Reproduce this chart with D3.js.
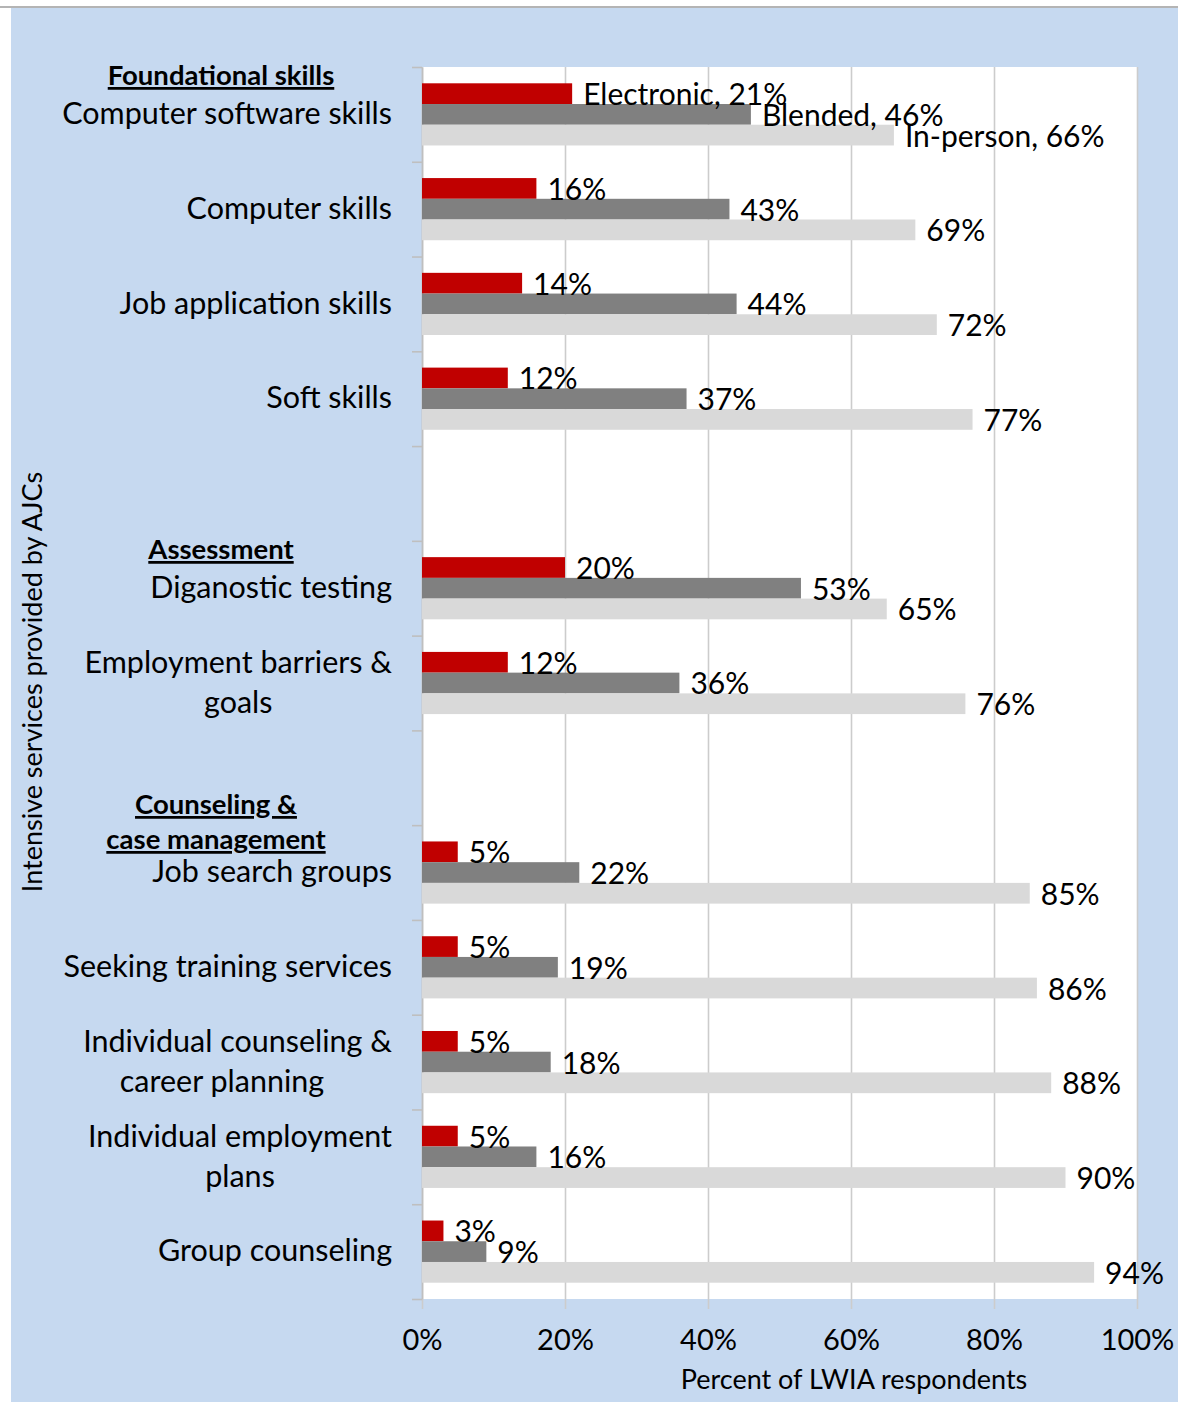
<!DOCTYPE html>
<html><head><meta charset="utf-8">
<script src="https://cdn.jsdelivr.net/npm/d3@7"></script>
<style>
body{margin:0;background:#fff}
text{font-family:Lato,"Open Sans",sans-serif;fill:#000}
</style>
</head><body>
<svg id="c" width="1178" height="1402"></svg>
<script>
// ---- data ----
const categories = [
  "Computer software skills",
  "Computer skills",
  "Job application skills",
  "Soft skills",
  "",
  "Diganostic testing",
  "Employment barriers &|goals",
  "",
  "Job search groups",
  "Seeking training services",
  "Individual counseling &|career planning\u00a0\u00a0\u00a0\u00a0",
  "Individual employment|plans",
  "Group counseling"
];
const series = ["Electronic", "Blended", "In-person"];
const electronic = [21, 16, 14, 12, null, 20, 12, null, 5, 5, 5, 5, 3];
const blended    = [46, 43, 44, 37, null, 53, 36, null, 22, 19, 18, 16, 9];
const inPerson   = [66, 69, 72, 77, null, 65, 76, null, 85, 86, 88, 90, 94];
const xTicks = [0, 20, 40, 60, 80, 100];
const groupHeaders = [["Foundational skills"], ["Assessment"], ["Counseling &", "case management"]];
const xTitle = "Percent of LWIA respondents";
const yTitle = "Intensive services provided by AJCs";

const seriesValues = [electronic, blended, inPerson];
const colors = ["#c00000", "#808080", "#d9d9d9"];

// ---- layout ----
const svg = d3.select("#c");
const L = 422, R = 1137, T = 67, B = 1299;
const FS_CAT = 30.5, FS_LBL = 30, FS_TICK = 29, FS_HEAD = 27.5, FS_TITLE = 27;

svg.append("line").attr("x1",0).attr("x2",1178).attr("y1",7).attr("y2",7)
  .attr("stroke","#b4b4b4").attr("stroke-width",2);
svg.append("rect").attr("x",11).attr("y",8).attr("width",1167).attr("height",1394).attr("fill","#c6d9f0");
svg.append("rect").attr("x",L).attr("y",T).attr("width",R-L).attr("height",B-T).attr("fill","#fff");

const x = d3.scaleLinear().domain([0,100]).range([L,R]);
const y = d3.scaleBand().domain(d3.range(categories.length)).range([T,B]);
const yIdx = d3.scaleLinear().domain([0,categories.length]).range([T,B]);
const inner = d3.scaleBand().domain(series).range([16.3, y.bandwidth()-16.3]);

// x axis with gridlines
const gx = svg.append("g").attr("transform",`translate(0,${T})`)
  .call(d3.axisBottom(x).tickValues(xTicks).tickSize(B-T+10).tickPadding(20).tickFormat(d=>d+"%"));
gx.select(".domain").remove();
gx.selectAll(".tick line").attr("stroke","#cccccc").attr("stroke-width",1.6);
gx.selectAll(".tick text").attr("font-size",FS_TICK).attr("font-family",null).attr("fill","#000");

// y axis ticks at band boundaries
const gy = svg.append("g").attr("transform",`translate(${L},0)`)
  .call(d3.axisLeft(yIdx).tickValues(d3.range(categories.length+1)).tickSize(10).tickSizeOuter(0).tickFormat(""));
gy.select(".domain").attr("stroke","#bfbfbf").attr("stroke-width",1.6);
gy.selectAll(".tick line").attr("stroke","#bfbfbf").attr("stroke-width",1.6);

// bars
const rows = categories.map((c,i)=>({i, vals: seriesValues.map(s=>s[i])})).filter(r=>r.vals[0]!=null);
const rowG = svg.append("g").selectAll("g").data(rows).join("g")
  .attr("transform", d=>`translate(0,${y(d.i)})`);
rowG.selectAll("rect").data(d=>d.vals.map((v,k)=>({v,k}))).join("rect")
  .attr("x", x(0)).attr("y", d=>inner(series[d.k]))
  .attr("width", d=>x(d.v)-x(0)).attr("height", inner.bandwidth())
  .attr("fill", d=>colors[d.k]);
rowG.selectAll("text").data(d=>d.vals.map((v,k)=>({v,k,first:d.i===0}))).join("text")
  .attr("x", d=>x(d.v)+11).attr("y", d=>inner(series[d.k])+inner.bandwidth()/2+1)
  .attr("dy","0.35em").attr("font-size",FS_LBL)
  .text(d=> d.first ? `${series[d.k]}, ${d.v}%` : `${d.v}%`);

// category labels
const labelX = 392;
categories.forEach((c,i)=>{
  if(!c) return;
  const lines = c.split("|");
  const cy = y(i)+y.bandwidth()/2;
  if(lines.length===1){
    svg.append("text").attr("x",labelX).attr("y",cy).attr("dy","0.32em")
      .attr("text-anchor","end").attr("font-size",FS_CAT).text(lines[0]);
  } else {
    const ts = lines.map((ln,k)=>svg.append("text").attr("y",cy+(k-(lines.length-1)/2)*40).attr("dy","0.32em")
      .attr("text-anchor","middle").attr("font-size",FS_CAT).style("white-space","pre").text(ln));
    const w = d3.max(ts, t=>t.node().getComputedTextLength());
    ts.forEach(t=>t.attr("x", labelX - w/2));
  }
});

// group headers
const headerPos = [{x:221, y:[85]}, {x:221, y:[559]}, {x:216, y:[814,849]}];
groupHeaders.forEach((h,gi)=>{
  h.forEach((ln,k)=>{
    svg.append("text").attr("x",headerPos[gi].x).attr("y",headerPos[gi].y[k])
      .attr("text-anchor","middle").attr("font-size",FS_HEAD).attr("font-weight","bold")
      .style("text-decoration","underline").text(ln);
  });
});

// axis titles
svg.append("text").attr("x",854).attr("y",1389).attr("text-anchor","middle")
  .attr("font-size",FS_TITLE).text(xTitle);
svg.append("text").attr("transform","translate(42,682) rotate(-90)").attr("text-anchor","middle")
  .attr("font-size",FS_TITLE).text(yTitle);
</script>
</body></html>
